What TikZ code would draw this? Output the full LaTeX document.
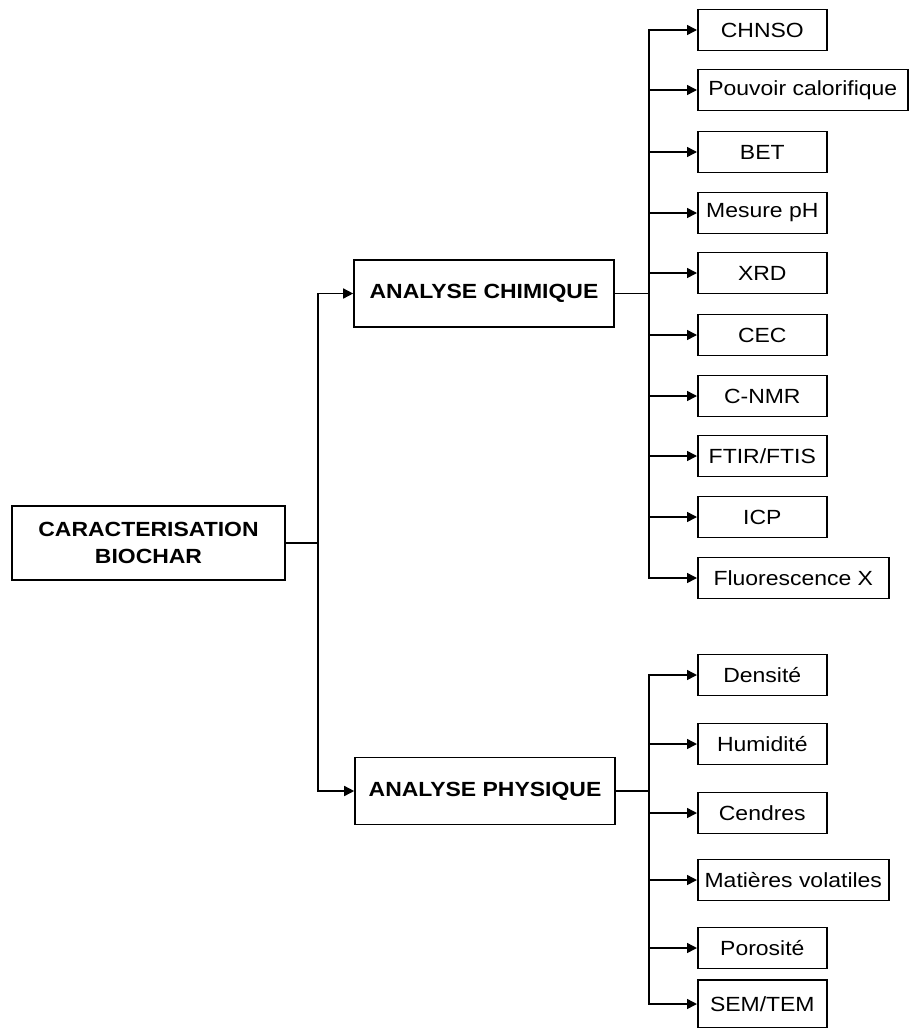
\documentclass[tikz,border=0pt]{standalone}
\usepackage{fontspec}
\setmainfont{Liberation Sans}[FakeStretch=1.12]
\usetikzlibrary{arrows.meta}
\newcommand\labfont{\fontsize{20.5}{27}\selectfont}
\tikzset{
  rootbox/.style={draw, line width=1.6pt, align=center, font=\labfont\bfseries,
    minimum width=273pt, minimum height=74pt},
  mainbox/.style={draw, line width=1.6pt, font=\labfont\bfseries,
    minimum width=260pt, minimum height=67pt},
  leafbox/.style={draw, line width=1.6pt, font=\labfont, anchor=west,
    minimum height=41pt, inner xsep=2pt},
  link/.style={line width=1.5pt},
  arr/.style={link, -{Triangle[length=10pt,width=10pt]}}
}
\begin{document}
\begin{tikzpicture}[x=1pt,y=-1pt]
  \useasboundingbox (0,0) rectangle (908,1028);
  \node[rootbox] (root) at (148.5,543) {CARACTERISATION\\BIOCHAR};
  \node[mainbox] (chim) at (484,293.5) {ANALYSE CHIMIQUE};
  \node[mainbox] (phys) at (485,791) {ANALYSE PHYSIQUE};
  \coordinate (rj) at (318,543);
  \coordinate (cj) at (649,293.5);
  \coordinate (pj) at (649,791);
  \draw[link] (root.east) -- (rj);
  \draw[arr] (rj) |- (chim.west);
  \draw[arr] (rj) |- (phys.west);
  \draw[link] (chim.east) -- (cj);
  \draw[link] (phys.east) -- (pj);
  % analyse chimique
  \foreach \n/\t/\yy/\w in {chnso/CHNSO/30/129, pcs/Pouvoir calorifique/90/210,
      bet/BET/152/129, ph/Mesure pH/213/129, xrd/XRD/273/129, cec/CEC/335/129,
      nmr/C-NMR/396/129, ftir/FTIR\slash FTIS/456/129, icp/ICP/517/129,
      fluo/Fluorescence X/578/191}{
    \node[leafbox, minimum width=\w pt] (\n) at (697,\yy) {\t};
    \draw[arr] (cj) |- (\n.west);
  }
  % analyse physique
  \foreach \n/\t/\yy/\w/\h in {dens/Densité/675/129/41, hum/Humidité/744/129/41,
      cend/Cendres/813/129/41, mv/Matières volatiles/880/191/41,
      poro/Porosité/948/129/41, sem/SEM\slash TEM/1004/129/48}{
    \node[leafbox, minimum width=\w pt, minimum height=\h pt] (\n) at (697,\yy) {\t};
    \draw[arr] (pj) |- (\n.west);
  }
\end{tikzpicture}
\end{document}
